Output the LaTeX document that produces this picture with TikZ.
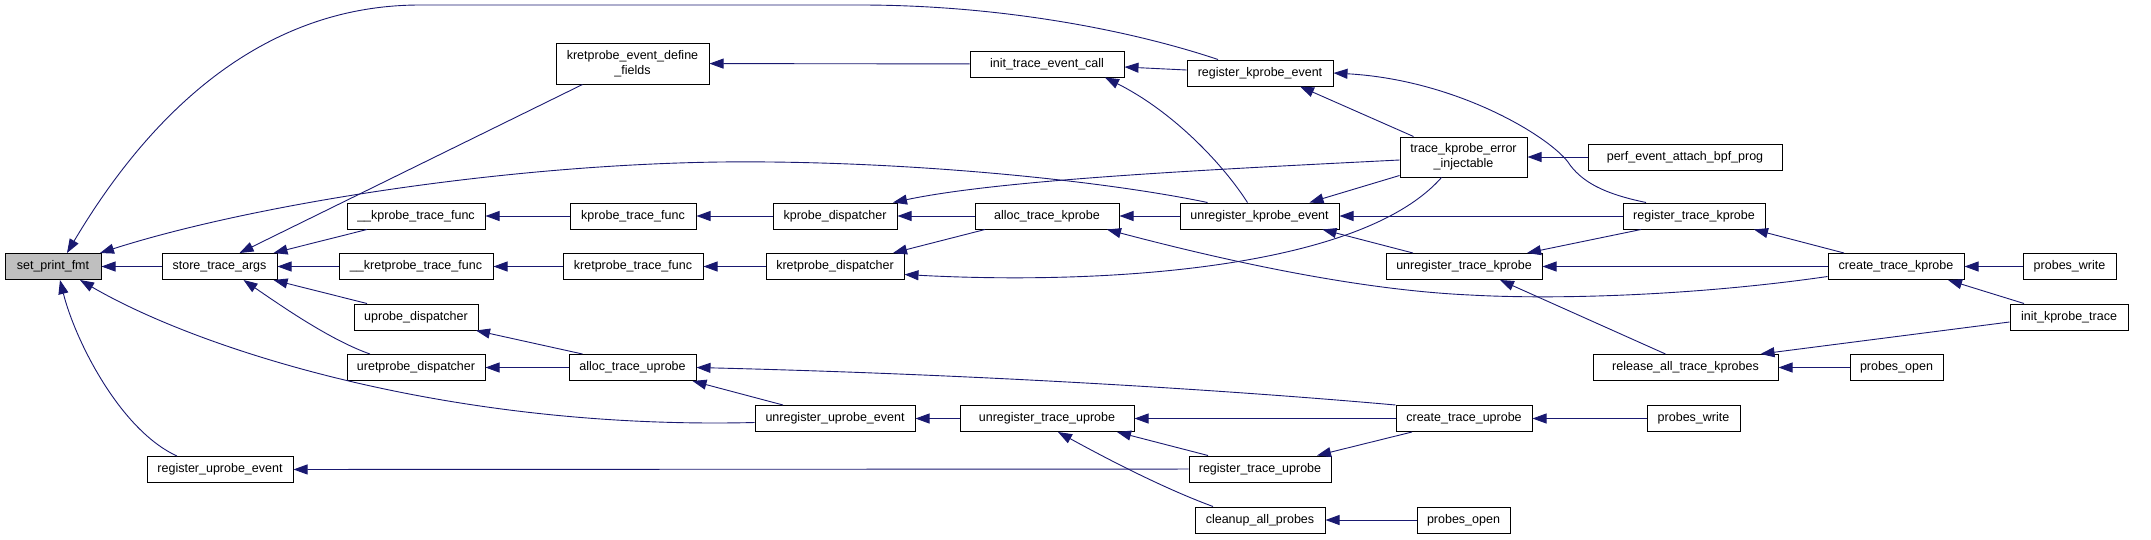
\documentclass[tikz,border=0pt]{standalone}
\usepackage{fontspec}
\setmainfont{Liberation Sans}
\usetikzlibrary{arrows.meta}
\definecolor{edgeblue}{HTML}{191970}

\begin{document}
\begin{tikzpicture}[
    x=1pt, y=-1pt,
    fnbox/.style={draw, line width=1pt, inner sep=0pt, minimum height=26, font=\fontsize{12.5}{15}\selectfont, align=center},
    arrow/.style={-{Triangle[length=14pt, width=10pt]}, draw=edgeblue, line width=0.9pt}
]
\useasboundingbox (0,0) rectangle (2151,539);

% Root and first callers
\node[fnbox, fill=black!25, minimum width=96] (setfmt) at (53, 266.5) {set\_print\_fmt};
\node[fnbox, minimum width=115] (store) at (219.5, 266.5) {store\_trace\_args};
\node[fnbox, minimum width=146] (reguev) at (220, 469.5) {register\_uprobe\_event};

% Trace functions and dispatchers
\node[fnbox, minimum width=138] (kpfuncA) at (416, 216) {\_\_kprobe\_trace\_func};
\node[fnbox, minimum width=154] (kretpfuncA) at (416, 266.5) {\_\_kretprobe\_trace\_func};
\node[fnbox, minimum width=124] (updisp) at (416, 317) {uprobe\_dispatcher};
\node[fnbox, minimum width=138] (uretdisp) at (416, 367.5) {uretprobe\_dispatcher};
\node[fnbox, minimum width=153, minimum height=41] (kretdef) at (632.5, 63.5) {kretprobe\_event\_define\\\_fields};
\node[fnbox, minimum width=126] (kpfunc) at (633, 216) {kprobe\_trace\_func};
\node[fnbox, minimum width=140] (kretpfunc) at (633, 266.5) {kretprobe\_trace\_func};
\node[fnbox, minimum width=127] (allocup) at (632.5, 367.5) {alloc\_trace\_uprobe};
\node[fnbox, minimum width=124] (kpdisp) at (835, 216) {kprobe\_dispatcher};
\node[fnbox, minimum width=138] (kretpdisp) at (835, 266.5) {kretprobe\_dispatcher};
\node[fnbox, minimum width=160] (unreguev) at (835, 418.5) {unregister\_uprobe\_event};

% Allocation and registration
\node[fnbox, minimum width=154] (initcall) at (1047, 64) {init\_trace\_event\_call};
\node[fnbox, minimum width=144] (allockp) at (1047, 216) {alloc\_trace\_kprobe};
\node[fnbox, minimum width=174] (unregtup) at (1047, 418.5) {unregister\_trace\_uprobe};
\node[fnbox, minimum width=146] (regkev) at (1260, 73) {register\_kprobe\_event};
\node[fnbox, minimum width=159] (unregkev) at (1259.5, 216) {unregister\_kprobe\_event};
\node[fnbox, minimum width=142] (regtup) at (1260, 469) {register\_trace\_uprobe};
\node[fnbox, minimum width=130] (cleanup) at (1260, 520) {cleanup\_all\_probes};
\node[fnbox, minimum width=127, minimum height=40] (errinj) at (1463.5, 157) {trace\_kprobe\_error\\\_injectable};
\node[fnbox, minimum width=156] (unregtkp) at (1464, 266.5) {unregister\_trace\_kprobe};
\node[fnbox, minimum width=136] (createup) at (1464, 418.5) {create\_trace\_uprobe};
\node[fnbox, minimum width=93] (popenB) at (1463.5, 520) {probes\_open};

% Outer callers
\node[fnbox, minimum width=194] (perfbpf) at (1685, 157) {perf\_event\_attach\_bpf\_prog};
\node[fnbox, minimum width=142] (regtkp) at (1694, 216) {register\_trace\_kprobe};
\node[fnbox, minimum width=185] (relkp) at (1685.5, 367.5) {release\_all\_trace\_kprobes};
\node[fnbox, minimum width=93] (pwriteB) at (1693.5, 418.5) {probes\_write};
\node[fnbox, minimum width=136] (createkp) at (1896, 266.5) {create\_trace\_kprobe};
\node[fnbox, minimum width=93] (popenA) at (1896.5, 367.5) {probes\_open};
\node[fnbox, minimum width=93] (pwriteA) at (2069.5, 266.5) {probes\_write};
\node[fnbox, minimum width=118] (initkp) at (2069, 317) {init\_kprobe\_trace};

% Calls into set_print_fmt
\draw[arrow] (store) -- (setfmt);
\draw[arrow] ([xshift=-42]regkev.north) .. controls (1130,30) and (1000,5) .. (860,5) -- (420,5) .. controls (250,5) and (140,130) .. ([xshift=14]setfmt.north);
\draw[arrow] ([xshift=-52]unregkev.north) .. controls (1100,180) and (900,160) .. (720,162) .. controls (500,165) and (250,205) .. ([xshift=47]setfmt.north);
\draw[arrow] ([yshift=-4]unreguev.west) .. controls (450,430) and (200,350) .. ([xshift=27]setfmt.south);
\draw[arrow] ([xshift=-43]reguev.north) .. controls (120,430) and (75,340) .. ([xshift=7]setfmt.south);

% Calls into store_trace_args
\draw[arrow] ([xshift=-50]kretdef.south) -- ([xshift=20]store.north);
\draw[arrow] ([xshift=-49]kpfuncA.south) -- ([xshift=54]store.north);
\draw[arrow] (kretpfuncA) -- (store);
\draw[arrow] ([xshift=-49]updisp.north) -- ([xshift=54]store.south);
\draw[arrow] ([xshift=-46]uretdisp.north) .. controls (330,340) and (280,305) .. ([xshift=24]store.south);

% kprobe side
\draw[arrow] (initcall) -- (kretdef);
\draw[arrow] (kpfunc) -- (kpfuncA);
\draw[arrow] (kretpfunc) -- (kretpfuncA);
\draw[arrow] (kpdisp) -- (kpfunc);
\draw[arrow] (kretpdisp) -- (kretpfunc);
\draw[arrow] (allockp) -- (kpdisp);
\draw[arrow] ([yshift=-3]errinj.west) .. controls (1200,170) and (1000,180) .. ([xshift=58]kpdisp.north);
\draw[arrow] ([xshift=-62]allockp.south) -- ([xshift=58]kretpdisp.north);
\draw[arrow] ([xshift=-22]errinj.south) .. controls (1360,270) and (1100,285) .. ([yshift=-8]kretpdisp.east);
\draw[arrow] ([yshift=3]regkev.west) -- ([yshift=-3]initcall.east);
\draw[arrow] ([xshift=-12]unregkev.north) .. controls (1220,160) and (1170,110) .. ([xshift=58]initcall.south);
\draw[arrow] ([xshift=-50]errinj.north) -- ([xshift=40]regkev.south);
\draw[arrow] ([xshift=-48]regtkp.north) .. controls (1610,195) and (1585,185) .. (1570,165) .. controls (1555,140) and (1460,80) .. (regkev.east);
\draw[arrow] (perfbpf) -- (errinj);
\draw[arrow] ([yshift=2]errinj.south west) -- ([xshift=50]unregkev.north);
\draw[arrow] (unregkev) -- (allockp);
\draw[arrow] (regtkp) -- (unregkev);
\draw[arrow] ([xshift=-51]unregtkp.north) -- ([xshift=63]unregkev.south);
\draw[arrow] ([yshift=-10]createkp.west) .. controls (1700,295) and (1560,300) .. (1470,295) .. controls (1360,290) and (1230,262) .. ([xshift=60]allockp.south);
\draw[arrow] ([xshift=-53]regtkp.south) -- ([xshift=63]unregtkp.north);
\draw[arrow] (createkp) -- (unregtkp);
\draw[arrow] ([xshift=-20]relkp.north) -- ([xshift=36]unregtkp.south);
\draw[arrow] ([xshift=-52]createkp.north) -- ([xshift=60]regtkp.south);
\draw[arrow] (pwriteA) -- (createkp);
\draw[arrow] ([xshift=-45]initkp.north) -- ([xshift=52]createkp.south);
\draw[arrow] ([yshift=-5]initkp.west) -- ([xshift=75]relkp.north);
\draw[arrow] (popenA) -- (relkp);

% uprobe side
\draw[arrow] ([xshift=-50]allocup.north) -- ([xshift=60]updisp.south);
\draw[arrow] (allocup) -- (uretdisp);
\draw[arrow] ([xshift=-52]unreguev.north) -- ([xshift=60]allocup.south);
\draw[arrow] (createup.north west) .. controls (1250,392) and (1000,375) .. (allocup.east);
\draw[arrow] (unregtup) -- (unreguev);
\draw[arrow] (createup) -- (unregtup);
\draw[arrow] ([xshift=-52]regtup.north) -- ([xshift=70]unregtup.south);
\draw[arrow] ([xshift=-47]cleanup.north) .. controls (1160,487) and (1100,455) .. ([xshift=11]unregtup.south);
\draw[arrow] (regtup) -- (reguev);
\draw[arrow] ([xshift=-52]createup.south) -- ([xshift=57]regtup.north);
\draw[arrow] (pwriteB) -- (createup);
\draw[arrow] (popenB) -- (cleanup);
\end{tikzpicture}
\end{document}
